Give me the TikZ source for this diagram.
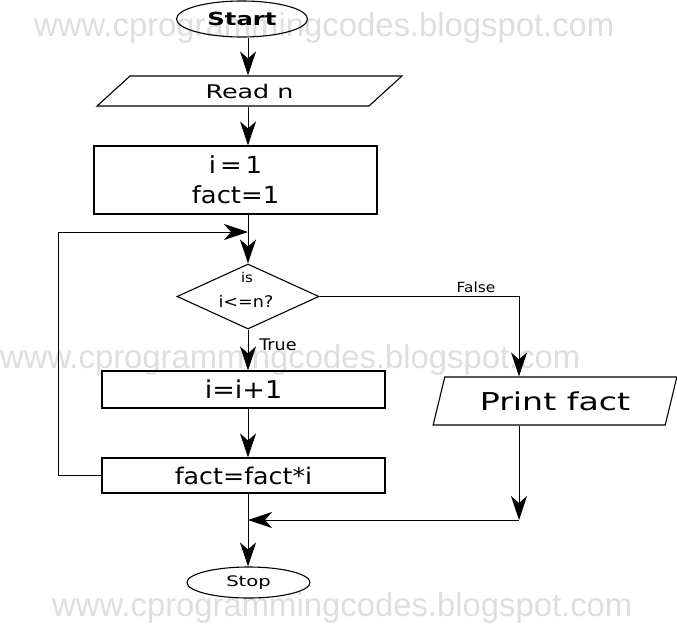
\documentclass[tikz,border=0pt]{standalone}
\usepackage{fontspec}
\usepackage{graphicx}
\setmainfont[FakeStretch=1.1]{DejaVu Sans}
\newfontfamily\widefont[FakeStretch=1.35]{DejaVu Sans}
\newfontfamily\wmfont{Liberation Sans}
\usetikzlibrary{shapes.geometric,arrows.meta}

\tikzset{
  box/.style={draw, line width=1.1pt, inner sep=0pt},
  proc/.style={box, rectangle, minimum width=283pt},
  term/.style={box, ellipse},
  io/.style={box, trapezium, trapezium stretches=true},
  flow/.style={-{Stealth[length=24pt,width=16pt,inset=7pt]}, line width=1pt},
  wm/.style={text=black!13, inner sep=0pt, anchor=base west},
}

\begin{document}
\begin{tikzpicture}[x=1pt,y=-1pt]
  \useasboundingbox (0,0) rectangle (677,629);

  % Watermark
  \node[wm] (wm1) at (34,36) {\resizebox{580pt}{24pt}{\wmfont www.cprogrammingcodes.blogspot.com}};
  \node[wm] (wm2) at (0,368) {\resizebox{580pt}{24pt}{\wmfont www.cprogrammingcodes.blogspot.com}};
  \node[wm] (wm3) at (52,616) {\resizebox{580pt}{24pt}{\wmfont www.cprogrammingcodes.blogspot.com}};

  % Boxes
  \node[term, minimum width=131pt, minimum height=36pt, font=\widefont\bfseries\fontsize{18}{18}\selectfont] (start) at (242,19) {Start};
  \node[io, trapezium left angle=50.2, trapezium right angle=129.8, minimum width=305pt, minimum height=30pt, font=\widefont\fontsize{18.8}{18.8}\selectfont] (read) at (249.5,91) {Read n};
  \node[proc, minimum height=68pt, align=center, font=\fontsize{23.5}{30}\selectfont] (init) at (235.5,180) {i\,=\,1\\fact=1};
  \node[box, diamond, minimum width=142pt, minimum height=65pt] (test) at (248,296.5) {};
  \node[proc, minimum height=37pt, font=\fontsize{24.5}{24.5}\selectfont] (incr) at (243.5,389.5) {i=i+1};
  \node[io, trapezium left angle=67.4, trapezium right angle=112.6, minimum width=244pt, minimum height=48pt, font=\widefont\fontsize{24.6}{24.6}\selectfont] (print) at (555,401) {Print fact};
  \node[proc, minimum height=35pt, font=\fontsize{23}{23}\selectfont] (mult) at (243.5,475.5) {fact=fact*i};
  \node[term, minimum width=123pt, minimum height=31pt, font=\widefont\fontsize{14.5}{14.5}\selectfont] (stop) at (248.5,582.5) {Stop};

  % Labels
  \node[font=\fontsize{13.5}{13.5}\selectfont] (is) at (247,277) {is};
  \node[font=\fontsize{16}{16}\selectfont] (cond) at (246,301) {i<=n?};
  \node[font=\fontsize{14}{14}\selectfont] (no) at (476,287) {False};
  \node[font=\fontsize{16}{16}\selectfont] (yes) at (278,345) {True};

  % Turning points
  \coordinate (col) at (248,0);
  \coordinate (side) at (519,0);
  \coordinate (back) at (58,0);
  \coordinate (merge) at (248,232);
  \coordinate (join) at (248,520);

  % Arrows
  \draw[flow] (col |- start.south) -- (col |- read.north);
  \draw[flow] (col |- read.south) -- (col |- init.north);
  \draw[flow] (col |- init.south) -- (test.north);
  \draw[flow] (test.east) -| (side |- print.north);
  \draw[flow] (test.south) -- (col |- incr.north);
  \draw[flow] (col |- incr.south) -- (col |- mult.north);
  \draw[flow] (mult.west) -| (back |- merge) -- (merge);
  \draw[flow] (side |- print.south) -- (side |- join);
  \draw[flow] (side |- join) -- (join);
  \draw[flow] (col |- mult.south) -- (col |- stop.north);
\end{tikzpicture}
\end{document}
